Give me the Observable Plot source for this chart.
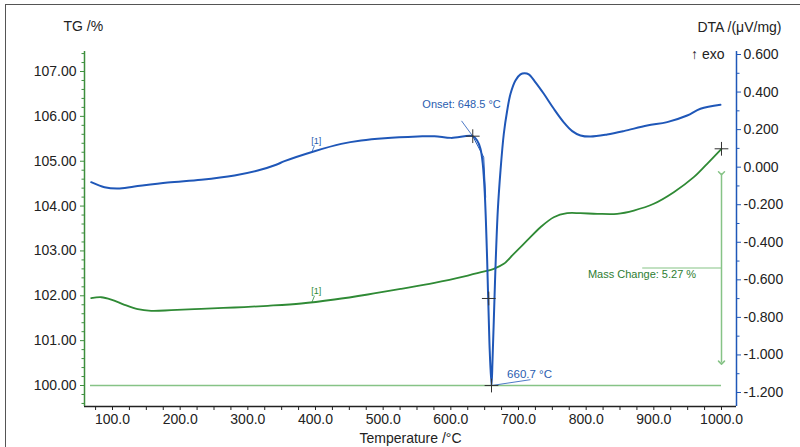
<!DOCTYPE html>
<html>
<head>
<meta charset="utf-8">
<script src="https://cdn.jsdelivr.net/npm/d3@7"></script>
<script src="https://cdn.jsdelivr.net/npm/@observablehq/plot@0.6"></script>
<style>
  html, body { margin: 0; padding: 0; background: #fff; }
  #wrap { position: relative; width: 800px; height: 447px; overflow: hidden; }
  #border { position: absolute; left: 5px; top: 4px; width: 800px; height: 460px;
            border-left: 1.5px solid #555; border-top: 1.5px solid #555; pointer-events: none; }
  svg { font-family: "Liberation Sans", Arial, sans-serif; }
</style>
</head>
<body>
<div id="wrap"><div id="border"></div></div>
<script>
// ---- data ----
const tgTemp = [68.5, 83.3, 98.1, 117.7, 137.4, 157.2, 186.7, 231.1, 280.3, 329.5, 378.9, 428.1, 477.3, 526.6, 575.8, 625.1, 649.7, 663.5, 678.3, 693.0, 712.8, 732.5, 752.1, 771.9, 791.6, 816.3, 845.8, 870.4, 899.9, 929.5, 959.0, 978.8, 1000.0];
const tgValue = [101.946, 101.968, 101.917, 101.799, 101.701, 101.666, 101.679, 101.710, 101.739, 101.777, 101.828, 101.917, 102.029, 102.156, 102.290, 102.452, 102.542, 102.602, 102.713, 102.936, 103.233, 103.529, 103.752, 103.841, 103.841, 103.828, 103.828, 103.901, 104.051, 104.309, 104.644, 104.943, 105.277];

const dtaTemp = [68.5, 88.2, 107.8, 132.5, 181.7, 231.1, 280.3, 314.7, 341.9, 354.2, 398.5, 438.0, 467.5, 502.0, 551.2, 575.8, 600.5, 632.4, 638.9, 643.8, 647.2, 650.2, 653.7, 657.1, 660.1, 661.6, 663.5, 666.0, 669.4, 673.4, 678.3, 683.3, 688.2, 695.5, 702.9, 708.9, 715.2, 725.1, 737.4, 752.2, 766.9, 779.4, 791.6, 806.4, 831.0, 855.6, 890.2, 919.7, 949.3, 968.9, 998.5];
const dtaValue = [-0.080, -0.107, -0.114, -0.103, -0.082, -0.067, -0.044, -0.018, 0.013, 0.032, 0.085, 0.124, 0.142, 0.154, 0.163, 0.165, 0.156, 0.165, 0.142, 0.098, 0.018, -0.142, -0.497, -0.941, -1.163, -1.030, -0.817, -0.533, -0.231, -0.018, 0.178, 0.302, 0.391, 0.462, 0.494, 0.500, 0.494, 0.452, 0.391, 0.311, 0.239, 0.192, 0.169, 0.163, 0.174, 0.192, 0.222, 0.240, 0.275, 0.311, 0.332];

// onset tangent helper line (DTA)
const tangentTemp = [632.4, 648.6, 651.5];
const tangentDta = [0.165, 0.053, -0.16];

const xTickLabels = [100, 200, 300, 400, 500, 600, 700, 800, 900, 1000];
const xMinorTicks = [75, 100, 125, 150, 175, 200, 225, 250, 275, 300, 325, 350, 375, 400, 425, 450, 475, 500, 525, 550, 575, 600, 625, 650, 675, 700, 725, 750, 775, 800, 825, 850, 875, 900, 925, 950, 975, 1000];
const tgTicks = [100, 101, 102, 103, 104, 105, 106, 107];
const tgMinorTicks = [99.6, 99.8, 100.2, 100.4, 100.6, 100.8, 101.2, 101.4, 101.6, 101.8, 102.2, 102.4, 102.6, 102.8, 103.2, 103.4, 103.6, 103.8, 104.2, 104.4, 104.6, 104.8, 105.2, 105.4, 105.6, 105.8, 106.2, 106.4, 106.6, 106.8, 107.2, 107.4];
const dtaTicks = [-1.2, -1.0, -0.8, -0.6, -0.4, -0.2, 0.0, 0.2, 0.4, 0.6];
const dtaMinorTicks = [-1.1, -0.9, -0.7, -0.5, -0.3, -0.1, 0.1, 0.3, 0.5];

const onsetTemp = 648.5;
const peakTemp = 660.7;
const massChange = 5.27;

// ---- scales ----
const xDomain = [58.62, 1022.17];
const tgDomain = [99.532, 107.446];
const dtaDomain = [-1.2746, 0.616];
const toTG = d => tgDomain[0] + (d - dtaDomain[0]) / (dtaDomain[1] - dtaDomain[0]) * (tgDomain[1] - tgDomain[0]);
const fromTG = v => dtaDomain[0] + (v - tgDomain[0]) / (tgDomain[1] - tgDomain[0]) * (dtaDomain[1] - dtaDomain[0]);

const BLUE = "#1f57b8";
const GREEN = "#2f8a35";
const AXGREEN = "#3d8f3d";
const LIGHTGREEN = "#86c386";
const TXT = "#222";

const tgData = tgTemp.map((t, i) => ({t, v: tgValue[i]}));
const dtaData = dtaTemp.map((t, i) => ({t, v: toTG(dtaValue[i])}));
const tangentData = tangentTemp.map((t, i) => ({t, v: toTG(tangentDta[i])}));

const onsetPt = {t: 632.4, v: toTG(0.165)};
const peakPt = {t: 660.1, v: toTG(-1.163)};
const midPt = {t: 656.1, v: 101.94};
const endPt = {t: 1000, v: tgValue[tgValue.length - 1]};
const arrowTop = 104.73, arrowBottom = 100.51;

const fmtDTA = v => { let d = Math.round(fromTG(v) * 1000) / 1000; if (d === 0) d = 0; return d.toFixed(3); };

const chart = Plot.plot({
  width: 800,
  height: 447,
  marginLeft: 84,
  marginRight: 64,
  marginTop: 51,
  marginBottom: 41,
  x: {domain: xDomain},
  y: {domain: tgDomain},
  style: {fontFamily: "'Liberation Sans', Arial, sans-serif", fontSize: "14px", background: "transparent"},
  marks: [
    // frame lines
    Plot.ruleY([tgDomain[0]], {stroke: "#222", strokeWidth: 1.5}),
    Plot.ruleX([xDomain[0]], {stroke: AXGREEN, strokeWidth: 1.5}),
    Plot.ruleX([xDomain[1]], {stroke: BLUE, strokeWidth: 1.5}),
    // x axis
    Plot.axisX({ticks: xMinorTicks, tickSize: 4, tickFormat: () => "", stroke: "#222", label: null}),
    Plot.axisX({ticks: xTickLabels, tickSize: 0, tickPadding: 8, tickFormat: d => d.toFixed(1), fill: TXT, label: null, fontSize: 14}),
    // left TG axis
    Plot.axisY({anchor: "left", ticks: tgMinorTicks, tickSize: 2.5, tickFormat: () => "", stroke: AXGREEN, label: null}),
    Plot.axisY({anchor: "left", ticks: tgTicks, tickSize: 4, tickFormat: () => "", stroke: AXGREEN, label: null}),
    Plot.axisY({anchor: "left", ticks: tgTicks, tickSize: 0, tickPadding: 8, tickFormat: d => d.toFixed(2), fill: TXT, label: null, fontSize: 14}),
    // right DTA axis
    Plot.axisY({anchor: "right", ticks: dtaMinorTicks.map(toTG), tickSize: 2.5, tickFormat: () => "", stroke: BLUE, label: null}),
    Plot.axisY({anchor: "right", ticks: dtaTicks.map(toTG), tickSize: 4, tickFormat: () => "", stroke: BLUE, label: null}),
    Plot.axisY({anchor: "right", ticks: dtaTicks.map(toTG), tickSize: 0, tickPadding: 7, tickFormat: fmtDTA, fill: TXT, label: null, fontSize: 14}),

    // 100 % baseline
    Plot.ruleY([100], {x1: 67.5, x2: 1000, stroke: LIGHTGREEN, strokeWidth: 1.5}),

    // TG curve
    Plot.line(tgData, {x: "t", y: "v", stroke: GREEN, strokeWidth: 1.8, curve: "catmull-rom"}),
    // DTA tangent helper
    Plot.line(tangentData, {x: "t", y: "v", stroke: BLUE, strokeWidth: 1}),
    // DTA curve
    Plot.line(dtaData, {x: "t", y: "v", stroke: BLUE, strokeWidth: 2, curve: "catmull-rom"}),

    // mass change annotation
    Plot.link([{t: 1000, y1: arrowTop, y2: arrowBottom}], {x1: "t", x2: "t", y1: "y1", y2: "y2", stroke: LIGHTGREEN, strokeWidth: 1.5, markerStart: "arrow", markerEnd: "arrow"}),
    Plot.link([{x1: 882.8, x2: 1000, y: (arrowTop + arrowBottom) / 2}], {x1: "x1", x2: "x2", y1: "y", y2: "y", stroke: LIGHTGREEN, strokeWidth: 1.2}),
    Plot.text([{t: 882.5, v: 102.47}], {x: "t", y: "v", text: () => `Mass Change: ${massChange.toFixed(2)} %`, fill: "#2e7d32", fontSize: 11}),

    // onset annotation
    Plot.link([{x1: 615.8, y1: 105.9, x2: onsetPt.t, y2: onsetPt.v}], {x1: "x1", y1: "y1", x2: "x2", y2: "y2", stroke: BLUE, strokeWidth: 0.8}),
    Plot.text([{t: 615.8, v: 106.26}], {x: "t", y: "v", text: () => `Onset: ${onsetTemp.toFixed(1)} °C`, fill: "#2a5db0", fontSize: 11}),

    // peak annotation
    Plot.link([{x1: peakPt.t, y1: peakPt.v, x2: 717.7, y2: 100.13}], {x1: "x1", y1: "y1", x2: "x2", y2: "y2", stroke: BLUE, strokeWidth: 0.8}),
    Plot.text([{t: 716.3, v: 100.24}], {x: "t", y: "v", text: () => `${peakTemp.toFixed(1)} °C`, fill: "#2a5db0", fontSize: 11.5}),

    // curve labels [1]
    Plot.link([{x1: 398.5, y1: toTG(0.115), x2: 395.1, y2: toTG(0.085)}], {x1: "x1", y1: "y1", x2: "x2", y2: "y2", stroke: BLUE, strokeWidth: 0.8}),
    Plot.text([{t: 401, v: 105.45}], {x: "t", y: "v", text: () => "[1]", fill: "#2a5db0", fontSize: 9}),
    Plot.link([{x1: 398.5, y1: 102.0, x2: 394.8, y2: 101.86}], {x1: "x1", y1: "y1", x2: "x2", y2: "y2", stroke: GREEN, strokeWidth: 0.8}),
    Plot.text([{t: 401, v: 102.10}], {x: "t", y: "v", text: () => "[1]", fill: GREEN, fontSize: 9}),

    // crosses
    Plot.dot([onsetPt, peakPt, midPt, endPt], {x: "t", y: "v", symbol: "plus", r: 4.5, stroke: "#333", strokeWidth: 1}),

    // headers
    Plot.text(["TG /%"], {frameAnchor: "top-left", dx: -21, dy: -25, textAnchor: "start", lineAnchor: "middle", fill: TXT, fontSize: 14}),
    Plot.text(["DTA /(μV/mg)"], {frameAnchor: "top-right", dx: 45, dy: -24, textAnchor: "end", lineAnchor: "middle", fill: TXT, fontSize: 14}),
    Plot.text(["↑ exo"], {frameAnchor: "top-right", dx: -12, dy: 3, textAnchor: "end", lineAnchor: "middle", fill: TXT, fontSize: 14}),
    Plot.text(["Temperature /°C"], {frameAnchor: "bottom", dy: 32, lineAnchor: "middle", fill: TXT, fontSize: 14})
  ]
});
document.getElementById("wrap").appendChild(chart);
</script>
</body>
</html>
